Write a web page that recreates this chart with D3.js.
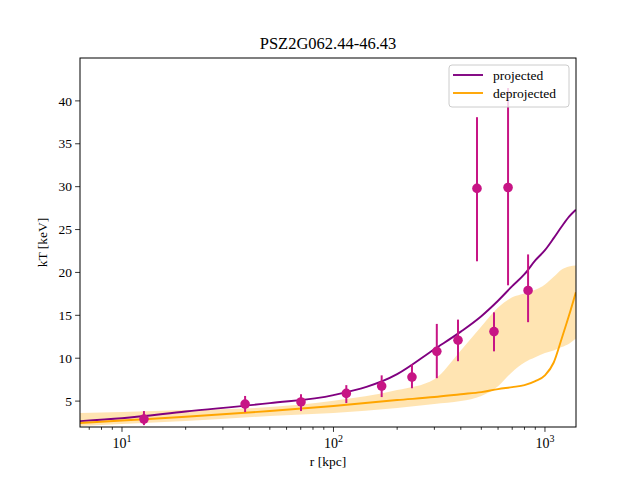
<!DOCTYPE html>
<html>
<head>
<meta charset="utf-8">
<script src="https://d3js.org/d3.v7.min.js"></script>
<style>
  body {margin: 0; background: #fff;}
  text {font-family: "Liberation Serif", "DejaVu Serif", serif; fill: #000;}
</style>
</head>
<body>
<script>
// measured points (radius in kpc, temperature in keV)
const pointR  = [12.7, 38.2, 70.2, 115, 169, 235, 308, 388, 477, 574, 669, 832];
const pointT  = [2.9, 4.65, 4.9, 5.9, 6.75, 7.8, 10.8, 12.1, 29.8, 13.1, 29.9, 17.9];
const pointLo = [2.2, 3.72, 3.84, 4.77, 5.47, 6.5, 7.67, 9.65, 21.3, 10.8, 18.5, 14.2];
const pointHi = [3.84, 5.6, 5.8, 6.86, 8.0, 9.3, 14.0, 14.5, 38.1, 15.35, 41.5, 22.1];

// model curves sampled on radius grid
const gridR = [6.33, 10, 20, 50, 100, 200, 300, 400, 500, 600, 700, 800, 900, 1000, 1100, 1200, 1300, 1400];
const projT   = [2.67, 3.0, 3.78, 4.77, 5.7, 8.14, 11.05, 13.1, 14.9, 16.7, 18.4, 19.8, 21.4, 22.6, 24.0, 25.35, 26.5, 27.3];
const deprojT = [2.44, 2.73, 3.17, 3.84, 4.42, 5.12, 5.47, 5.8, 6.05, 6.4, 6.63, 6.86, 7.33, 8.0, 9.5, 12.3, 15.0, 17.7];
const bandHi  = [3.6, 3.72, 3.95, 4.3, 5.03, 6.28, 7.56, 10.9, 13.7, 15.9, 17.1, 17.55, 17.97, 18.6, 19.5, 20.35, 20.7, 20.8];
const bandLo  = [2.1, 2.33, 2.67, 3.26, 3.6, 4.19, 4.65, 5.0, 5.6, 6.74, 8.4, 9.5, 10.1, 10.6, 10.9, 11.3, 11.7, 12.3];

const yTicks = [5, 10, 15, 20, 25, 30, 35, 40];
const xTicks = [10, 100, 1000];
const xTickExp = ["1", "2", "3"];
const seriesNames = ["projected", "deprojected"];

const width = 640, height = 480;
const margin = {left: 80, right: 64, top: 58, bottom: 53};
const innerW = width - margin.left - margin.right;
const innerH = height - margin.top - margin.bottom;

const svg = d3.select("body").append("svg")
  .attr("width", width).attr("height", height);

const g = svg.append("g")
  .attr("transform", `translate(${margin.left},${margin.top})`);

const x = d3.scaleLog().domain([6.33, 1402]).range([0, innerW]);
const y = d3.scaleLinear().domain([1.98, 45.0]).range([innerH, 0]);

g.append("clipPath").attr("id", "clip")
  .append("rect").attr("width", innerW).attr("height", innerH);

const plot = g.append("g").attr("clip-path", "url(#clip)");

const grid = gridR.map((r, i) => ({r, p: projT[i], d: deprojT[i], lo: bandLo[i], hi: bandHi[i]}));

// uncertainty band
plot.append("path")
  .datum(grid)
  .attr("fill", "orange")
  .attr("fill-opacity", 0.3)
  .attr("d", d3.area()
    .x(d => x(d.r))
    .y0(d => y(d.lo))
    .y1(d => y(d.hi))
    .curve(d3.curveMonotoneX));

plot.append("path")
  .datum(grid)
  .attr("fill", "none")
  .attr("stroke", "purple")
  .attr("stroke-width", 1.9)
  .attr("d", d3.line().x(d => x(d.r)).y(d => y(d.p)).curve(d3.curveMonotoneX));

plot.append("path")
  .datum(grid)
  .attr("fill", "none")
  .attr("stroke", "orange")
  .attr("stroke-width", 1.9)
  .attr("d", d3.line().x(d => x(d.r)).y(d => y(d.d)).curve(d3.curveMonotoneX));

// data points with error bars
const pts = pointR.map((r, i) => ({r, t: pointT[i], lo: pointLo[i], hi: pointHi[i]}));

plot.selectAll(".err")
  .data(pts)
  .join("line")
  .attr("class", "err")
  .attr("x1", d => x(d.r)).attr("x2", d => x(d.r))
  .attr("y1", d => y(d.lo)).attr("y2", d => y(d.hi))
  .attr("stroke", "mediumvioletred")
  .attr("stroke-width", 2);

plot.selectAll(".pt")
  .data(pts)
  .join("circle")
  .attr("class", "pt")
  .attr("cx", d => x(d.r)).attr("cy", d => y(d.t))
  .attr("r", 4.8)
  .attr("fill", "mediumvioletred");

// axes
const xAxis = g.append("g").attr("transform", `translate(0,${innerH})`);
const minor = [];
[1, 10, 100, 1000].forEach(dec => {
  for (let k = 2; k <= 9; k++) {
    const v = dec * k;
    if (v >= x.domain()[0] && v <= x.domain()[1]) minor.push(v);
  }
});
xAxis.selectAll(".minor")
  .data(minor)
  .join("line")
  .attr("x1", d => x(d)).attr("x2", d => x(d))
  .attr("y1", 0).attr("y2", 2.8)
  .attr("stroke", "#000").attr("stroke-width", 0.8);

xAxis.selectAll(".major")
  .data(xTicks)
  .join("line")
  .attr("x1", d => x(d)).attr("x2", d => x(d))
  .attr("y1", 0).attr("y2", 4.9)
  .attr("stroke", "#000").attr("stroke-width", 0.8);

const xLab = xAxis.selectAll(".xl")
  .data(xTicks)
  .join("text")
  .attr("x", d => x(d))
  .attr("y", 21)
  .attr("text-anchor", "middle")
  .attr("font-size", 14);
xLab.append("tspan").text("10");
xLab.append("tspan")
  .attr("dy", -6)
  .attr("font-size", 10)
  .text((d, i) => xTickExp[i]);

const yAxis = g.append("g");
yAxis.selectAll(".yt")
  .data(yTicks)
  .join("line")
  .attr("x1", -4.9).attr("x2", 0)
  .attr("y1", d => y(d)).attr("y2", d => y(d))
  .attr("stroke", "#000").attr("stroke-width", 0.8);

yAxis.selectAll(".yl")
  .data(yTicks)
  .join("text")
  .attr("x", -8)
  .attr("y", d => y(d))
  .attr("dy", "0.35em")
  .attr("text-anchor", "end")
  .attr("font-size", 13.5)
  .text(d => d);

// frame
g.append("rect")
  .attr("width", innerW).attr("height", innerH)
  .attr("fill", "none").attr("stroke", "#000").attr("stroke-width", 1);

// titles
svg.append("text")
  .attr("x", margin.left + innerW / 2).attr("y", 49)
  .attr("text-anchor", "middle").attr("font-size", 16.5)
  .text("PSZ2G062.44-46.43");

svg.append("text")
  .attr("x", margin.left + innerW / 2).attr("y", 466)
  .attr("text-anchor", "middle").attr("font-size", 13.5)
  .text("r [kpc]");

svg.append("text")
  .attr("transform", `translate(47,${margin.top + innerH / 2}) rotate(-90)`)
  .attr("text-anchor", "middle").attr("font-size", 13.5)
  .text("kT [keV]");

// legend
const legend = g.append("g").attr("transform", `translate(${innerW - 127},7)`);
legend.append("rect")
  .attr("width", 120).attr("height", 42).attr("rx", 3)
  .attr("fill", "#fff").attr("fill-opacity", 0.8)
  .attr("stroke", "#ccc").attr("stroke-width", 1);

const colors = ["purple", "orange"];
seriesNames.forEach((name, i) => {
  legend.append("line")
    .attr("x1", 4).attr("x2", 34)
    .attr("y1", 10 + i * 18).attr("y2", 10 + i * 18)
    .attr("stroke", colors[i]).attr("stroke-width", 1.9);
  legend.append("text")
    .attr("x", 44).attr("y", 10 + i * 18).attr("dy", "0.35em")
    .attr("font-size", 13.5)
    .text(name);
});
</script>
</body>
</html>
